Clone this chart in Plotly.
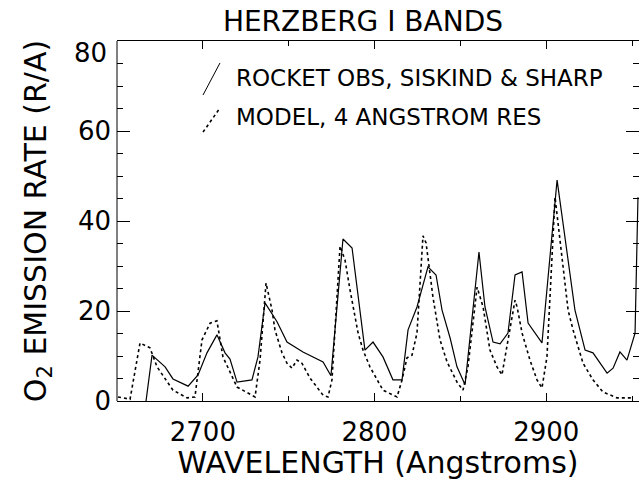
import plotly.graph_objects as go

# Rocket observations (Siskind & Sharp)
obs_wl = [2666.9, 2670.4, 2678.0, 2682.6, 2691.4, 2697.2, 2702.4, 2708.2, 2712.9, 2715.8,
          2719.9, 2728.6, 2732.1, 2736.2, 2743.2, 2749.0, 2758.3, 2770.0, 2774.6, 2781.6,
          2786.9, 2791.5, 2794.4, 2799.1, 2804.9, 2810.7, 2816.0, 2819.5, 2824.7, 2831.1,
          2835.8, 2839.3, 2844.0, 2848.0, 2852.7, 2860.8, 2864.3, 2869.0, 2873.1, 2877.7,
          2881.8, 2885.9, 2889.4, 2897.5, 2906.3, 2916.7, 2922.6, 2927.2, 2935.4, 2938.9,
          2942.9, 2947.0, 2951.7, 2953.4]
obs_val = [0.0, 10.2, 7.6, 4.9, 3.3, 5.8, 10.7, 14.7, 10.7, 9.3,
           4.2, 4.7, 9.8, 21.8, 17.6, 13.1, 10.9, 8.7, 5.6, 36.0,
           34.0, 20.2, 11.3, 13.1, 9.8, 4.7, 4.7, 15.8, 20.9, 29.8,
           28.0, 20.2, 14.0, 7.6, 3.6, 33.1, 20.9, 13.1, 12.7, 15.1,
           28.0, 28.7, 17.3, 12.9, 49.1, 20.2, 11.3, 10.7, 6.2, 7.3,
           10.9, 9.1, 15.1, 45.3]

# Model, 4 Angstrom resolution
mod_wl = [2650.6, 2657.6, 2663.4, 2669.2, 2673.3, 2682.6, 2690.8, 2695.4, 2699.5, 2704.2,
          2708.2, 2711.7, 2719.9, 2730.4, 2733.3, 2736.8, 2740.3, 2742.0, 2746.1, 2749.0,
          2751.9, 2754.8, 2757.7, 2762.4, 2770.0, 2772.9, 2775.2, 2779.9, 2782.8, 2785.7,
          2790.4, 2793.3, 2797.3, 2804.9, 2813.1, 2816.0, 2818.9, 2821.8, 2824.7, 2828.2,
          2830.0, 2832.3, 2834.0, 2838.1, 2842.2, 2848.0, 2851.5, 2854.4, 2859.7, 2863.2,
          2867.2, 2871.3, 2874.2, 2876.0, 2878.9, 2881.8, 2883.0, 2885.9, 2890.5, 2894.6,
          2897.5, 2900.4, 2905.1, 2912.7, 2915.6, 2918.5, 2921.4, 2927.2, 2933.0, 2941.2,
          2950.5]
mod_val = [0.9, 0.4, 12.9, 11.8, 7.6, 2.4, 0.7, 0.9, 13.6, 17.3,
           17.8, 9.8, 3.1, 0.9, 9.1, 26.2, 20.2, 15.8, 10.7, 8.4,
           7.3, 9.1, 8.4, 5.1, 1.3, 0.9, 4.7, 34.4, 31.3, 24.7,
           15.1, 11.3, 7.6, 2.4, 0.9, 4.7, 9.6, 10.2, 15.1, 36.7,
           35.1, 27.6, 23.1, 13.6, 8.7, 4.2, 2.4, 7.6, 25.3, 20.9,
           11.3, 7.6, 5.8, 9.8, 16.4, 22.4, 20.9, 15.1, 9.1, 4.7,
           2.9, 9.8, 45.3, 20.2, 15.8, 12.0, 8.4, 4.7, 2.0, 0.7,
           0.7]

x_ticks = [2700, 2800, 2900]
y_ticks = [0, 20, 40, 60]
legend_labels = ["ROCKET OBS, SISKIND & SHARP", "MODEL, 4 ANGSTROM RES"]

FONT = "DejaVu Sans"

fig = go.Figure()
fig.add_trace(go.Scatter(x=obs_wl, y=obs_val, mode="lines",
                         line=dict(color="black", width=1.2), showlegend=False,
                         hoverinfo="skip"))
fig.add_trace(go.Scatter(x=mod_wl, y=mod_val, mode="lines",
                         line=dict(color="black", width=1.6, dash="dot"), showlegend=False,
                         hoverinfo="skip"))

fig.update_layout(
    width=639, height=480,
    margin=dict(l=117, r=0, t=41, b=79, pad=0),
    paper_bgcolor="white", plot_bgcolor="white",
    font=dict(family=FONT, color="black"),
    title=dict(text="HERZBERG I BANDS", x=0.568, xanchor="center", y=0.956, yanchor="middle",
               font=dict(size=28, family=FONT, color="black")),
    showlegend=False,
    hovermode=False,
)

fig.update_xaxes(
    range=[2650, 2954], showgrid=False, zeroline=False, automargin=False,
    showline=True, linecolor="black", linewidth=1, mirror="ticks",
    ticks="inside", ticklen=8, tickcolor="black", tickwidth=1,
    tickvals=x_ticks, ticktext=[str(v) for v in x_ticks],
    tickfont=dict(size=26, family=FONT, color="black"), ticklabelstandoff=8,
    minor=dict(dtick=50, tick0=2650, ticks="inside", ticklen=5, tickcolor="black"),
    title=dict(text="WAVELENGTH (Angstroms)", font=dict(size=30, family=FONT, color="black"),
               standoff=6),
)
fig.update_yaxes(
    range=[0, 80], showgrid=False, zeroline=False, automargin=False,
    showline=False, mirror="ticks",
    ticks="inside", ticklen=13, tickcolor="black", tickwidth=1,
    tickvals=y_ticks, ticktext=[str(v) for v in y_ticks],
    tickfont=dict(size=26, family=FONT, color="black"), ticklabelstandoff=5,
    minor=dict(dtick=5, tick0=0, ticks="inside", ticklen=6, tickcolor="black"),
    title=dict(text="O<sub>2</sub> EMISSION RATE (R/A)",
               font=dict(size=30, family=FONT, color="black"), standoff=22),
)

# left axis line
fig.add_shape(type="line", xref="paper", yref="paper", x0=0, x1=0, y0=0, y1=1,
              line=dict(color="black", width=1))
# label for the top tick, drawn a bit below the frame as in the original
fig.add_annotation(text="80", xref="paper", yref="paper", x=-0.015, y=0.967,
                   xanchor="right", yanchor="middle", showarrow=False,
                   font=dict(size=26, family=FONT, color="black"))

# legend symbols and labels
fig.add_shape(type="line", xref="paper", yref="paper", x0=0.1648, y0=0.85, x1=0.1973, y1=0.939,
              line=dict(color="black", width=1))
fig.add_shape(type="line", xref="paper", yref="paper", x0=0.1648, y0=0.747, x1=0.1973, y1=0.814,
              line=dict(color="black", width=1.6, dash="dot"))
fig.add_annotation(text=legend_labels[0], xref="paper", yref="paper", x=0.224, y=0.897,
                   xanchor="left", yanchor="middle", showarrow=False,
                   font=dict(size=23, family=FONT, color="black"))
fig.add_annotation(text=legend_labels[1], xref="paper", yref="paper", x=0.224, y=0.789,
                   xanchor="left", yanchor="middle", showarrow=False,
                   font=dict(size=23, family=FONT, color="black"))

fig.write_html(
    "out.html",
    config={"displayModeBar": False, "staticPlot": True},
    post_script="document.body.style.margin='0';document.body.style.overflow='hidden';",
)
